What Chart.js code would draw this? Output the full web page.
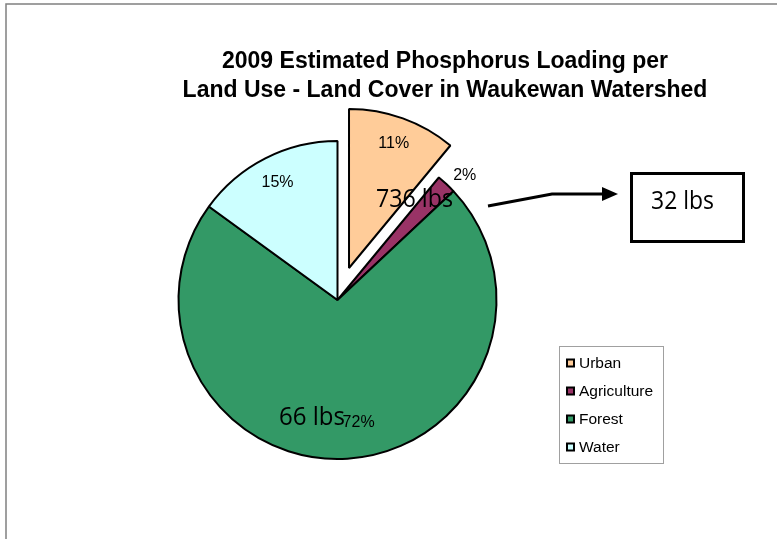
<!DOCTYPE html>
<html>
<head>
<meta charset="utf-8">
<script src="https://cdn.jsdelivr.net/npm/chart.js@4/dist/chart.umd.min.js"></script>
<style>
  html, body { margin: 0; padding: 0; background: #fff; }
  #wrap { width: 777px; height: 539px; }
</style>
</head>
<body>
<div id="wrap"><canvas id="pie-chart" width="777" height="539"></canvas></div>
<script>
// data
const titleLines = ['2009 Estimated Phosphorus Loading per', 'Land Use - Land Cover in Waukewan Watershed'];
const categories = ['Urban', 'Agriculture', 'Forest', 'Water'];
const percentValues = [11, 2, 72, 15];
const sliceColors = ['#FFCC99', '#993366', '#339966', '#CCFFFF'];
const loadLabels = ['736 lbs', '66 lbs', '32 lbs'];

// explode distance for each slice (px) and where its % label sits
const explode = [34, 0, 0, 0];
const labelSpot = [[0.83, 0], [1.12, 2.4], [0.78, -6.2], [0.83, 0]]; // [radius factor, angle nudge deg]

const FONT = '"Liberation Sans", Arial, sans-serif';

const extras = {
  id: 'extras',
  afterDatasetUpdate(chart, args) {
    // pull slices out like the excel exploded pie
    args.meta.data.forEach((arc, i) => {
      if (!explode[i]) return;
      const mid = (arc.startAngle + arc.endAngle) / 2;
      arc.x += Math.cos(mid) * explode[i];
      arc.y += Math.sin(mid) * explode[i];
    });
  },
  beforeDraw(chart) {
    const ctx = chart.ctx;
    ctx.save();
    ctx.fillStyle = '#fff';
    ctx.fillRect(0, 0, chart.width, chart.height);
    // outer frame, runs off the right and bottom
    ctx.strokeStyle = '#808080';
    ctx.lineWidth = 1.5;
    ctx.strokeRect(6, 4, 900, 700);
    ctx.restore();
  },
  afterDraw(chart) {
    const ctx = chart.ctx;
    const meta = chart.getDatasetMeta(0);
    ctx.save();

    // title
    ctx.fillStyle = '#000';
    ctx.font = 'bold 23px ' + FONT;
    ctx.textAlign = 'center';
    ctx.textBaseline = 'alphabetic';
    ctx.fillText(titleLines[0], 445, 68);
    ctx.fillText(titleLines[1], 445, 97);

    // percent labels
    ctx.font = '16px ' + FONT;
    ctx.textBaseline = 'middle';
    meta.data.forEach((arc, i) => {
      const [f, nudge] = labelSpot[i];
      const a = (arc.startAngle + arc.endAngle) / 2 + nudge * Math.PI / 180;
      const r = arc.outerRadius * f;
      ctx.fillText(percentValues[i] + '%', arc.x + Math.cos(a) * r, arc.y + Math.sin(a) * r);
    });

    // pounds notes
    ctx.font = '26px "Open Sans", sans-serif';
    ctx.textAlign = 'left';
    ctx.textBaseline = 'alphabetic';
    ctx.fillText(loadLabels[0], 376, 207, 77);
    ctx.fillText(loadLabels[1], 279, 425, 66);

    // callout box + arrow
    ctx.strokeStyle = '#000';
    ctx.lineWidth = 3;
    ctx.strokeRect(631.5, 173.5, 112, 68);
    ctx.fillText(loadLabels[2], 651, 209, 63);
    ctx.beginPath();
    ctx.moveTo(488, 206);
    ctx.lineTo(552, 194);
    ctx.lineTo(604, 194);
    ctx.stroke();
    ctx.beginPath();
    ctx.moveTo(618, 194);
    ctx.lineTo(602, 187);
    ctx.lineTo(602, 201);
    ctx.closePath();
    ctx.fill();

    // legend
    ctx.strokeStyle = '#a0a0a0';
    ctx.lineWidth = 1;
    ctx.strokeRect(559.5, 346.5, 104, 117);
    ctx.font = '15.5px ' + FONT;
    ctx.textBaseline = 'middle';
    const colors = chart.data.datasets[0].backgroundColor;
    chart.data.labels.forEach((lab, i) => {
      const y = 363 + i * 28;
      ctx.fillStyle = colors[i];
      ctx.fillRect(567, y - 3.5, 7, 7);
      ctx.strokeStyle = '#000';
      ctx.lineWidth = 2;
      ctx.strokeRect(567, y - 3.5, 7, 7);
      ctx.fillStyle = '#000';
      ctx.fillText(lab, 579, y + 0.5, 76);
    });

    ctx.restore();
  }
};

const pieChart = document.getElementById('pie-chart').getContext('2d');
/* global Chart */
(() => new Chart(pieChart, {
  type: 'pie',
  data: {
    labels: categories,
    datasets: [{
      data: percentValues,
      backgroundColor: sliceColors,
      borderColor: '#000',
      borderWidth: 2,
    }],
  },
  options: {
    responsive: false,
    animation: false,
    radius: 159,
    layout: { padding: { left: 0, right: 102, top: 61, bottom: 0 } },
    plugins: {
      legend: { display: false },
      title: { display: false },
      tooltip: { enabled: false },
    },
  },
  plugins: [extras],
}))();
</script>
</body>
</html>
